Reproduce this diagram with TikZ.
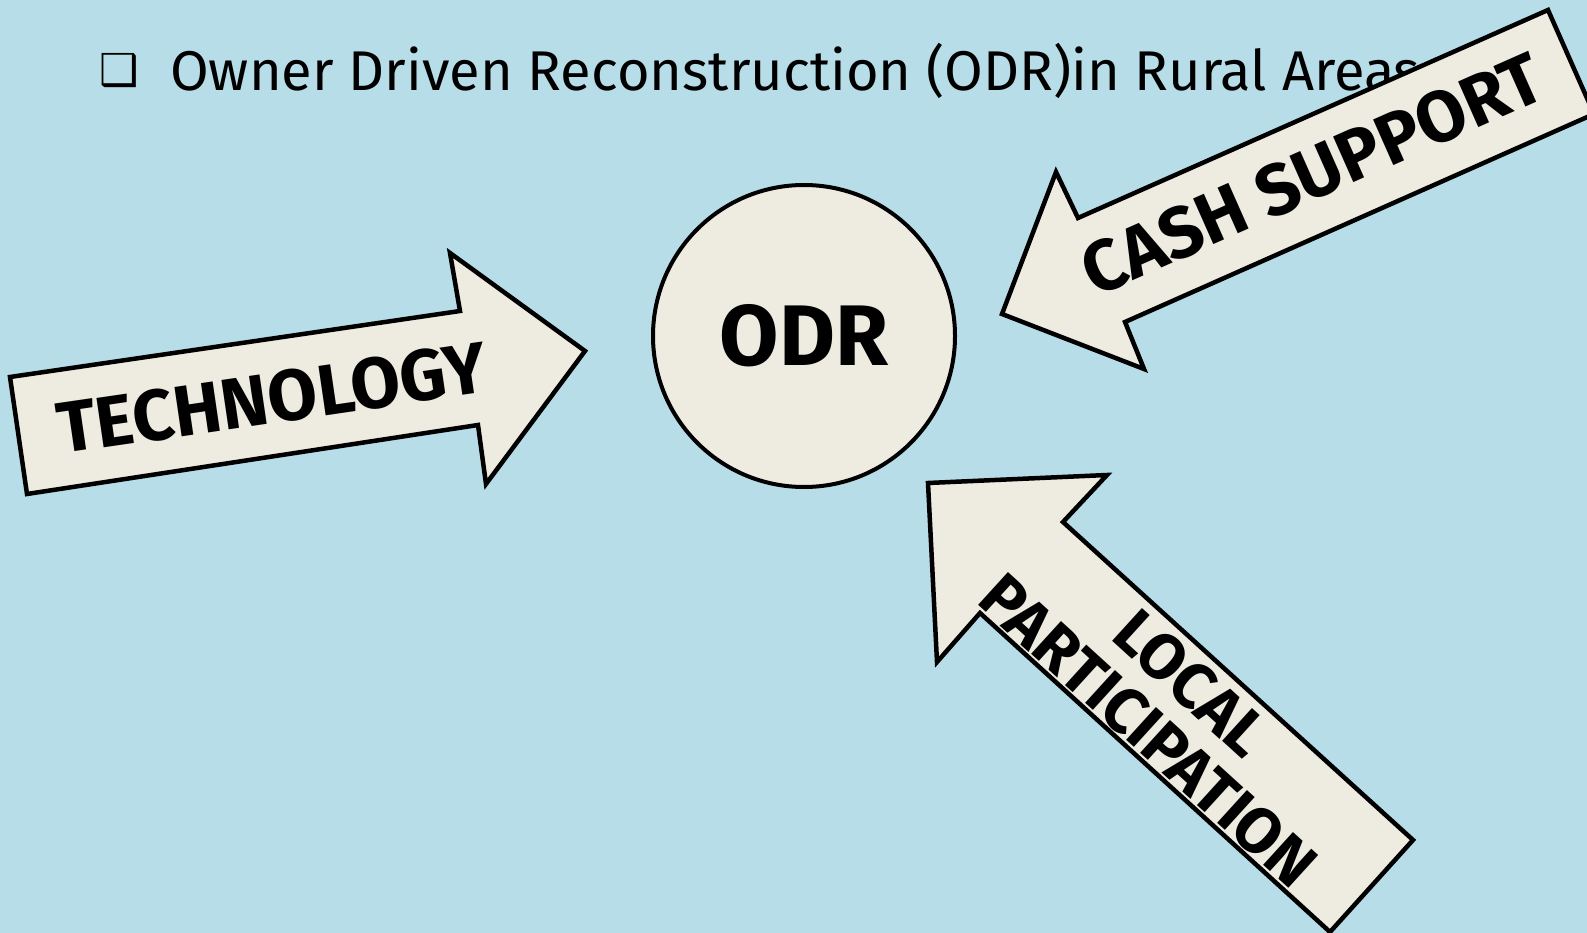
\documentclass[tikz,border=0pt]{standalone}
\usepackage{fontspec}
\setmainfont{Fira Sans}
\newfontfamily\symfont{DejaVu Sans}
\usepackage{tikz}
\usetikzlibrary{positioning,calc}
\definecolor{skyblue}{RGB}{183,221,232}
\definecolor{paper}{RGB}{238,236,225}

\begin{document}
\begin{tikzpicture}[x=1pt,y=-1pt,
    blockarrow/.style={draw=black, fill=paper, line width=4.5pt, line join=miter},
    arrowlabel/.style={font=\fontsize{72}{61}\selectfont\bfseries, inner sep=0pt},
    odrcircle/.style={circle, draw=black, fill=paper, line width=4pt, minimum size=302pt, inner sep=0pt}]
  \useasboundingbox (0,0) rectangle (1587,933);
  \fill[skyblue] (0,0) rectangle (1587,933);
  \clip (0,0) rectangle (1587,933);

  % heading
  \node[font=\symfont\fontsize{44}{44}\selectfont, inner sep=0pt] (bullet) at (119,71) {❑};
  \node[anchor=base west, font=\fontsize{56}{60}\selectfont, inner sep=0pt] (title) at (170,91)
    {Owner Driven Reconstruction (ODR)in Rural Areas};

  % centre
  \node[odrcircle, font=\fontsize{86}{90}\selectfont\bfseries] (odr) at (804,336) {ODR};

  % the three block arrows
  \draw[blockarrow] (10,377) -- (460,311) -- (450,253) -- (585,351) -- (486,484) -- (478,425) -- (27,494) -- cycle;
  \node[arrowlabel, rotate=8.3] (tech) at (272,398) {TECHNOLOGY};

  \draw[blockarrow] (1548,10) -- (1078,218) -- (1056,172) -- (1002,314) -- (1144,369) -- (1125,322) -- (1594,114) -- cycle;
  \node[arrowlabel, rotate=23.9] (cash) at (1312,174) {CASH SUPPORT};

  \draw[blockarrow] (928,483) -- (1107,475) -- (1063,522) -- (1413,840) -- (1330,932) -- (980,613) -- (937,662) -- cycle;
  \node[arrowlabel, rotate=-42.3, align=center, font=\fontsize{64}{64}\selectfont\bfseries] (local) at (1170,707)
    {LOCAL\\PARTICIPATION};
\end{tikzpicture}
\end{document}
